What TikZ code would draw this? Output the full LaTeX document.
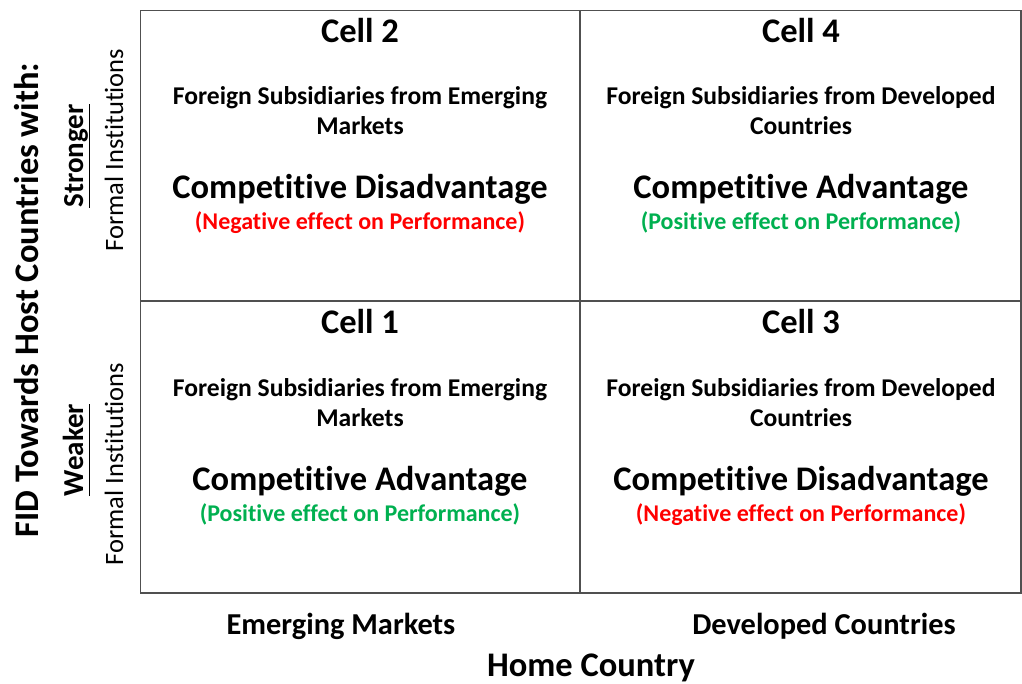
\documentclass[tikz,border=0pt]{standalone}
\usepackage{fontspec}
\setmainfont[Ligatures=NoCommon]{Carlito}
\definecolor{posgreen}{HTML}{00B050}
\definecolor{negred}{HTML}{FF0000}
\definecolor{gridgray}{HTML}{505050}
\begin{document}
\begin{tikzpicture}[x=1pt,y=-1pt,
  cellhead/.style={anchor=base, inner sep=0pt, font=\fontsize{34.5}{40}\selectfont\bfseries},
  subtext/.style={anchor=base, inner sep=0pt, font=\fontsize{25.6}{30}\selectfont\bfseries},
  effect/.style={anchor=base, inner sep=0pt, font=\fontsize{34.5}{40}\selectfont\bfseries},
  effectnote/.style={anchor=base, inner sep=0pt, font=\fontsize{24}{28}\selectfont\bfseries},
  axislabel/.style={anchor=base, inner sep=0pt, font=\fontsize{30.4}{36}\selectfont\bfseries},
  titlelabel/.style={anchor=base, inner sep=0pt, font=\fontsize{34.5}{40}\selectfont\bfseries},
  sidelabel/.style={anchor=base, inner sep=0pt, rotate=90},
  gridline/.style={draw=gridgray, line width=1.4pt}
]
% canvas
\fill[white] (0,0) rectangle (1022,684);

% 2x2 matrix
\coordinate (tl) at (140.5,10.5);
\coordinate (br) at (1021,593);
\coordinate (tm) at (580,10.5);
\coordinate (bm) at (580,593);
\coordinate (ml) at (140.5,301);
\coordinate (mr) at (1021,301);
\draw[gridline] (tl) rectangle (br);
\draw[gridline] (tm) -- (bm);
\draw[gridline] (ml) -- (mr);

% Cell 2 (top left)
\node[cellhead]   (c2h) at (360,43)  {Cell 2};
\node[subtext]    (c2a) at (360,105) {Foreign Subsidiaries from Emerging};
\node[subtext]    (c2b) at (360,135) {Markets};
\node[effect]     (c2e) at (360,199) {Competitive Disadvantage};
\node[effectnote,text=negred] (c2n) at (360,230) {(Negative effect on Performance)};

% Cell 4 (top right)
\node[cellhead]   (c4h) at (801,43)  {Cell 4};
\node[subtext]    (c4a) at (801,105) {Foreign Subsidiaries from Developed};
\node[subtext]    (c4b) at (801,135) {Countries};
\node[effect]     (c4e) at (801,199) {Competitive Advantage};
\node[effectnote,text=posgreen] (c4n) at (801,230) {(Positive effect on Performance)};

% Cell 1 (bottom left)
\node[cellhead]   (c1h) at (360,334) {Cell 1};
\node[subtext]    (c1a) at (360,396) {Foreign Subsidiaries from Emerging};
\node[subtext]    (c1b) at (360,426) {Markets};
\node[effect]     (c1e) at (360,490) {Competitive Advantage};
\node[effectnote,text=posgreen] (c1n) at (360,521) {(Positive effect on Performance)};

% Cell 3 (bottom right)
\node[cellhead]   (c3h) at (801,334) {Cell 3};
\node[subtext]    (c3a) at (801,396) {Foreign Subsidiaries from Developed};
\node[subtext]    (c3b) at (801,426) {Countries};
\node[effect]     (c3e) at (801,490) {Competitive Disadvantage};
\node[effectnote,text=negred] (c3n) at (801,521) {(Negative effect on Performance)};

% horizontal axis
\node[axislabel]  (emk) at (341,634) {Emerging Markets};
\node[axislabel]  (dev) at (824,634) {Developed Countries};
\node[titlelabel] (home) at (591,676) {Home Country};

% vertical axis
\node[sidelabel, font=\fontsize{34.5}{40}\selectfont\bfseries] (fid) at (38,300) {FID Towards Host Countries with:};
\node[sidelabel, font=\fontsize{29}{34}\selectfont\bfseries] (str) at (83,156) {\underline{Stronger}};
\node[sidelabel, font=\fontsize{26.5}{31}\selectfont] (fi1) at (123,150) {Formal Institutions};
\node[sidelabel, font=\fontsize{29}{34}\selectfont\bfseries] (wea) at (83,450) {\underline{Weaker\vphantom{g}}};
\node[sidelabel, font=\fontsize{26.5}{31}\selectfont] (fi2) at (123,464) {Formal Institutions};
\end{tikzpicture}
\end{document}
